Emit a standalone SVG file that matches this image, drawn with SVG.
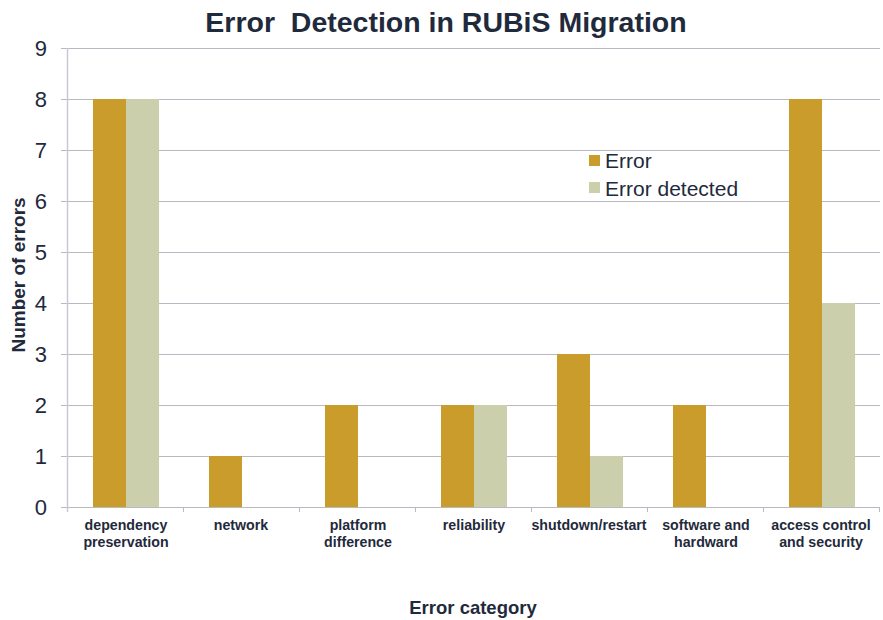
<svg xmlns="http://www.w3.org/2000/svg" width="883" height="620" viewBox="0 0 883 620">
  <style>
    text { font-family: "Liberation Sans", Arial, sans-serif; fill: #1f2a3c; }
    .title { font-size: 28.5px; font-weight: bold; }
    .ytick { font-size: 22px; }
    .xlab { font-size: 14.2px; font-weight: bold; }
    .axtitle { font-size: 18.5px; font-weight: bold; }
    .legend { font-size: 21px; }
    .grid { stroke: #b9b9c3; stroke-width: 1; }
    .axis { stroke: #c9c9d1; stroke-width: 1.5; }
    .err { fill: #c99c2c; }
    .det { fill: #cbcfac; }
  </style>
  <rect width="883" height="620" fill="#ffffff"/>

  <text class="title" x="446" y="32" text-anchor="middle" xml:space="preserve">Error  Detection in RUBiS Migration</text>

  <!-- gridlines and axes -->
  <g id="axes">
    <line class="grid" x1="61" y1="48.5" x2="880" y2="48.5"/>
    <line class="grid" x1="61" y1="99.5" x2="880" y2="99.5"/>
    <line class="grid" x1="61" y1="150.5" x2="880" y2="150.5"/>
    <line class="grid" x1="61" y1="201.5" x2="880" y2="201.5"/>
    <line class="grid" x1="61" y1="252.5" x2="880" y2="252.5"/>
    <line class="grid" x1="61" y1="303.5" x2="880" y2="303.5"/>
    <line class="grid" x1="61" y1="354.5" x2="880" y2="354.5"/>
    <line class="grid" x1="61" y1="405.5" x2="880" y2="405.5"/>
    <line class="grid" x1="61" y1="456.5" x2="880" y2="456.5"/>
    <line class="grid" x1="61" y1="507.5" x2="880" y2="507.5"/>
    <line class="axis" x1="67.5" y1="48" x2="67.5" y2="512"/>
    <g class="grid">
      <line x1="183.5" y1="507" x2="183.5" y2="512"/>
      <line x1="299.5" y1="507" x2="299.5" y2="512"/>
      <line x1="415.5" y1="507" x2="415.5" y2="512"/>
      <line x1="531.5" y1="507" x2="531.5" y2="512"/>
      <line x1="647.5" y1="507" x2="647.5" y2="512"/>
      <line x1="763.5" y1="507" x2="763.5" y2="512"/>
      <line x1="879.5" y1="507" x2="879.5" y2="512"/>
    </g>
  </g>

  <!-- y tick labels -->
  <g id="yticks" text-anchor="end">
    <text class="ytick" x="47" y="56">9</text>
    <text class="ytick" x="47" y="107">8</text>
    <text class="ytick" x="47" y="158">7</text>
    <text class="ytick" x="47" y="209">6</text>
    <text class="ytick" x="47" y="260">5</text>
    <text class="ytick" x="47" y="311">4</text>
    <text class="ytick" x="47" y="362">3</text>
    <text class="ytick" x="47" y="413">2</text>
    <text class="ytick" x="47" y="464">1</text>
    <text class="ytick" x="47" y="515">0</text>
  </g>

  <!-- bars -->
  <g id="bars">
    <rect class="err" x="93" y="99" width="33" height="408"/>
    <rect class="det" x="126" y="99" width="33" height="408"/>
    <rect class="err" x="209" y="456" width="33" height="51"/>
    <rect class="err" x="325" y="405" width="33" height="102"/>
    <rect class="err" x="441" y="405" width="33" height="102"/>
    <rect class="det" x="474" y="405" width="33" height="102"/>
    <rect class="err" x="557" y="354" width="33" height="153"/>
    <rect class="det" x="590" y="456" width="33" height="51"/>
    <rect class="err" x="673" y="405" width="33" height="102"/>
    <rect class="err" x="789" y="99" width="33" height="408"/>
    <rect class="det" x="822" y="303" width="33" height="204"/>
  </g>

  <!-- category labels -->
  <g id="xlabels" text-anchor="middle">
    <text class="xlab" x="126" y="530">dependency</text>
    <text class="xlab" x="126" y="547">preservation</text>
    <text class="xlab" x="241" y="530">network</text>
    <text class="xlab" x="358" y="530">platform</text>
    <text class="xlab" x="358" y="547">difference</text>
    <text class="xlab" x="474" y="530">reliability</text>
    <text class="xlab" x="589" y="530">shutdown/restart</text>
    <text class="xlab" x="706" y="530">software and</text>
    <text class="xlab" x="706" y="547">hardward</text>
    <text class="xlab" x="821" y="530">access control</text>
    <text class="xlab" x="821" y="547">and security</text>
  </g>

  <!-- axis titles -->
  <text class="axtitle" x="473" y="614" text-anchor="middle">Error category</text>
  <text class="axtitle" transform="translate(25,275) rotate(-90)" text-anchor="middle" style="font-size:19px">Number of errors</text>

  <!-- legend -->
  <g id="legend">
    <rect class="err" x="589" y="155" width="11" height="11"/>
    <text class="legend" x="605" y="168">Error</text>
    <rect class="det" x="589" y="182" width="11" height="11"/>
    <text class="legend" x="605" y="196">Error detected</text>
  </g>
</svg>
